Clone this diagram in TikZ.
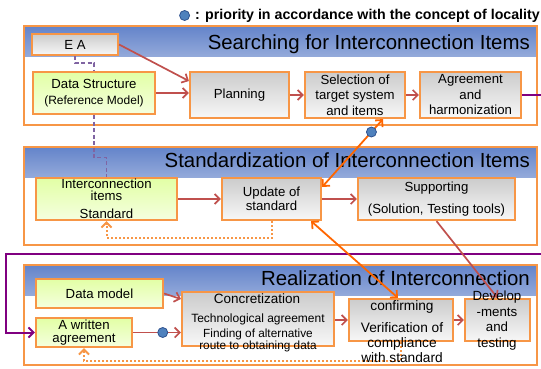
\documentclass[tikz,border=0pt]{standalone}
\usepackage{fontspec}
\setmainfont{Liberation Sans}
\usetikzlibrary{positioning,arrows.meta}
\definecolor{porange}{RGB}{247,150,70}
\definecolor{lorange}{RGB}{255,102,0}
\definecolor{flowred}{RGB}{192,80,77}
\definecolor{vio}{RGB}{128,0,128}
\definecolor{lav}{RGB}{128,100,162}
\definecolor{band}{RGB}{100,132,202}
\definecolor{dotblue}{RGB}{79,129,189}
\definecolor{dotedge}{RGB}{47,82,143}
\definecolor{grtop}{RGB}{226,255,165}

\begin{document}
\begin{tikzpicture}[x=1pt,y=-1pt,>={Straight Barb[length=5pt,width=10pt]},
    panel/.style = {draw=porange,line width=2.4pt,fill=white,inner sep=0pt,
      path picture={\shade[top color=band,bottom color=white]
        (path picture bounding box.north west) rectangle ([yshift=-30pt]path picture bounding box.north east);}},
    title/.style = {anchor=base east,inner sep=0pt,font=\fontsize{20.4}{24}\selectfont},
    procbox/.style = {draw=porange,line width=2.2pt,align=center,inner sep=1pt,font=\fontsize{13.2}{15.5}\selectfont},
    grybox/.style = {procbox,top color=gray!40,bottom color=gray!6},
    grnbox/.style = {procbox,top color=grtop,bottom color=grtop!35},
    txt/.style = {align=center,inner sep=0pt},
    flow/.style = {->,draw=flowred,line width=1.7pt},
    link/.style = {<->,draw=lorange,line width=1.8pt},
    fback/.style = {->,draw=porange,line width=2pt,dotted},
    dashref/.style = {draw=lav,line width=1.5pt,dash pattern=on 4pt off 2.5pt},
    cycleline/.style = {->,draw=vio,line width=2pt},
    bluedot/.style = {circle,draw=dotedge,fill=dotblue,line width=0.8pt,minimum size=10pt,inner sep=0pt}]
  \useasboundingbox (0,0) rectangle (541,369);
  % panels
  \node[panel,minimum width=513pt,minimum height=98.6pt] (p1) at (280.35,75.5) {};
  \node[panel,minimum width=513pt,minimum height=97.6pt] (p2) at (280.35,196) {};
  \node[panel,minimum width=513pt,minimum height=99.6pt] (p3) at (280.35,315) {};
  \node[title] (t1) at (530,50) {Searching for Interconnection Items};
  \node[title] (t2) at (530,167.5) {Standardization of Interconnection Items};
  \node[title] (t3) at (530,285) {Realization of Interconnection};
  % legend
  \node[bluedot] (key) at (184.6,15.5) {};
  \node[right=5pt of key,inner sep=0pt,font=\bfseries\fontsize{14.2}{16}\selectfont] (keytext) {: priority in accordance with the concept of locality};
  % searching
  \node[grybox,minimum width=86pt,minimum height=21pt] (ea) at (75,44.5) {E A};
  \node[grnbox,minimum width=122pt,minimum height=42pt] (ds) at (94,93) {Data Structure\\[1pt]{\fontsize{12}{14}\selectfont (Reference Model)}};
  \node[grybox,minimum width=99pt,minimum height=46pt] (plan) at (239.5,95) {Planning};
  \node[grybox,minimum width=100pt,minimum height=46pt] (sel) at (355,95) {Selection of\\target system\\and items};
  \node[grybox,minimum width=101pt,minimum height=46pt] (agr) at (470.5,95) {Agreement\\and\\harmonization};
  % standardization
  \node[grnbox,minimum width=141pt,minimum height=42pt] (ic) at (106.5,199) {Interconnection\\[-3.5pt]items\\[2pt]Standard};
  \node[grybox,minimum width=99pt,minimum height=42pt] (upd) at (271.5,199) {Update of\\[-1pt]standard};
  \node[grybox,minimum width=157pt,minimum height=42pt] (sup) at (436.5,199) {Supporting\\[6pt](Solution, Testing tools)};
  % realization
  \node[grnbox,minimum width=127pt,minimum height=29pt] (dm) at (99.5,293.5) {Data model};
  \node[grnbox,minimum width=96pt,minimum height=29pt] (wa) at (84,332.5) {A written\\[-2.5pt]agreement};
  \node[grybox,minimum width=152pt,minimum height=54pt] (conc) at (258,319) {};
  \node[grybox,minimum width=104pt,minimum height=42pt] (conf) at (401,320) {};
  \node[grybox,minimum width=65pt,minimum height=42pt] (dev) at (497.5,320) {};
  % connectors
  \coordinate (rt) at (546,95);
  \coordinate (lt) at (6,253.5);
  \draw[cycleline] (agr.east) -- (rt) |- (lt) |- (wa.west);
  \draw[dashref] (ea.south) -- ++(0,7) -| (ds.north);
  \draw[dashref] (ds.south) -- ++(0,42.5) -| (ic.north);
  \draw[flow] (ea.east) -- ([yshift=14pt]plan.west);
  \draw[flow] (ds.east) -- (ds.east -| plan.west);
  \draw[flow] (plan) -- (sel);
  \draw[flow] (sel) -- (agr);
  \draw[flow] (ic) -- (upd);
  \draw[flow] (upd) -- (sup);
  \draw[flow] (dm.east) -- ([yshift=20pt]conc.west);
  \draw[flow] (conf.west -| conc.east) -- (conf.west);
  \draw[flow] (conf) -- (dev);
  \draw[flow] (sup.south) -- (dev.north);
  \draw[fback] (upd.south) -- ++(0,17) -| (ic.south);
  \draw[fback] (conf.south) -- ++(0,19) -| (wa.south);
  \draw[link] ([xshift=28pt]sel.south) -- ([yshift=12pt]upd.east) node[bluedot,pos=0.19] (d1) {};
  \draw[link] ([xshift=-11pt]upd.south east) -- ([xshift=-3pt]conf.north);
  \draw[flow] (wa.east) -- (wa.east -| conc.west) node[bluedot,pos=0.62] (d2) {};
  % texts of the tall boxes
  \node[txt,font=\fontsize{13.5}{16}\selectfont] (conc1) at (257,299) {Concretization};
  \node[txt,font=\fontsize{12}{14}\selectfont] (conc2) at (258,319) {Technological agreement};
  \node[txt,font=\fontsize{11.8}{10.5}\selectfont] (conc3) at (258,340) {Finding of alternative\\route to obtaining data};
  \node[txt,font=\fontsize{13.7}{15}\selectfont] (conftext) at (402,332) {confirming\\[7pt]Verification of\\compliance\\with standard};
  \node[txt,font=\fontsize{13.3}{15.7}\selectfont] (devtext) at (497,320.5) {Develop\\-ments\\and\\testing};
\end{tikzpicture}
\end{document}
